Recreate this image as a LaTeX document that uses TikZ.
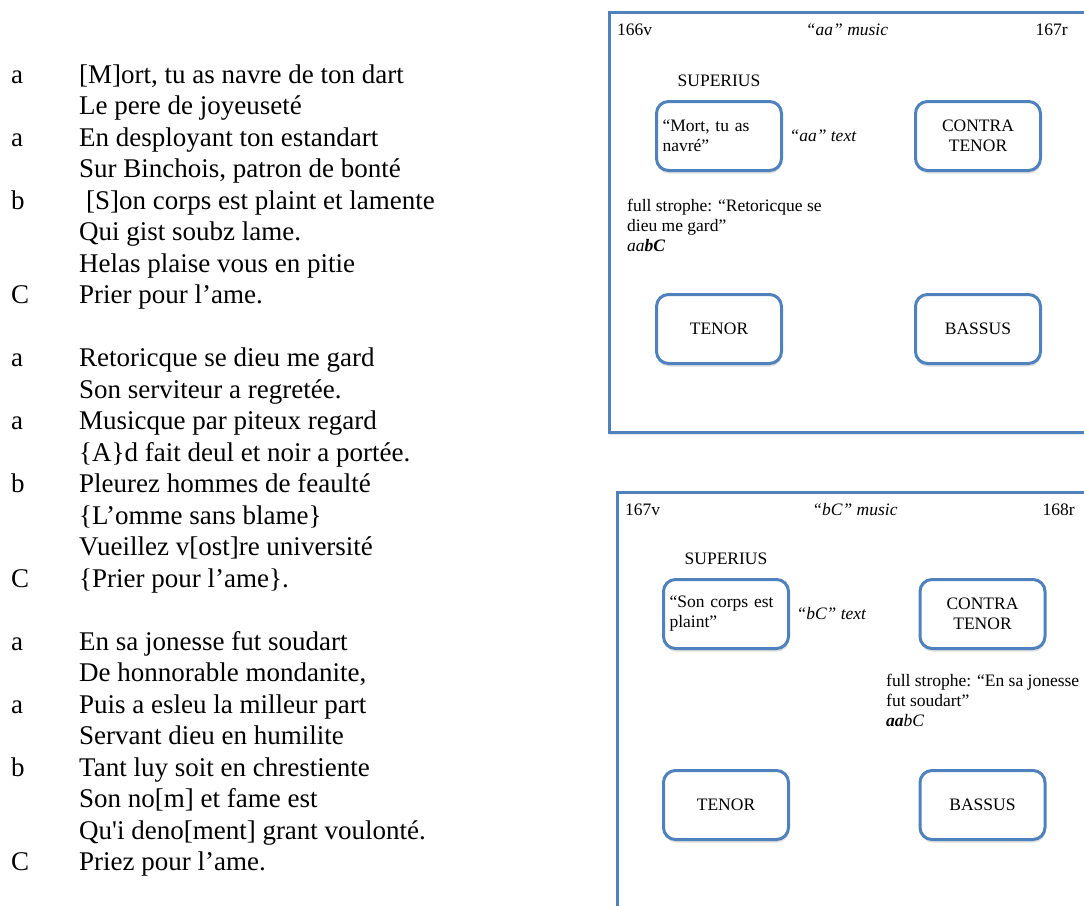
\documentclass[tikz,border=0pt]{standalone}
\usepackage{fontspec}
\setmainfont{Liberation Serif}[Ligatures=TeXOff]
\usetikzlibrary{positioning,shadows}
\definecolor{partblue}{RGB}{79,129,189}
\begin{document}
\begin{tikzpicture}[x=1pt, y={(0pt,-1pt)}, font=\fontsize{17.5}{20}\selectfont]
        \tikzset{frame/.style={draw=partblue, line width=3pt, fill=white, drop shadow={opacity=0.2, shadow xshift=0pt, shadow yshift=-2.5pt}},
                 part/.style={draw=partblue, line width=3pt, rounded corners=12pt, fill=white, minimum width=125pt, minimum height=69pt, inner sep=6pt, align=center, drop shadow={opacity=0.25, shadow xshift=0.5pt, shadow yshift=-3pt}},
                 incipit/.style={part, align=left, text width=113pt},
                 note/.style={anchor=west, align=left, inner sep=0}}
        \useasboundingbox (0,0) rectangle (1084,905);
        \clip (0,0) rectangle (1084,905);

        \node[anchor=base west, inner sep=0, font=\fontsize{27}{31.5}\selectfont] (poem) at (11,83) {%
        \begin{tabular}[t]{@{}p{68pt}@{}l@{}}
        a & [M]ort, tu as navre de ton dart\\
          & Le pere de joyeuseté\\
        a & En desployant ton estandart\\
          & Sur Binchois, patron de bonté\\
        b & \hspace{7pt}[S]on corps est plaint et lamente\\
          & Qui gist soubz lame.\\
          & Helas plaise vous en pitie\\
        C & Prier pour l’ame.\\
          & \\
        a & Retoricque se dieu me gard\\
          & Son serviteur a regretée.\\
        a & Musicque par piteux regard\\
          & \{A\}d fait deul et noir a portée.\\
        b & Pleurez hommes de feaulté\\
          & \{L’omme sans blame\}\\
          & Vueillez v[ost]re université\\
        C & \{Prier pour l’ame\}.\\
          & \\
        a & En sa jonesse fut soudart\\
          & De honnorable mondanite,\\
        a & Puis a esleu la milleur part\\
          & Servant dieu en humilite\\
        b & Tant luy soit en chrestiente\\
          & Son no[m] et fame est\\
          & Qu'i deno[ment] grant voulonté.\\
        C & Priez pour l’ame.
        \end{tabular}};

        \draw[frame] (609,12) rectangle (1120,432);
        \node[note] (leftA) at (617,30) {166v};
        \node (musA) at (847,30) {\itshape “aa” music};
        \node[anchor=east, inner sep=0] (rightA) at (1068,30) {167r};
        \node[incipit] (supA) at (719,136) {“Mort, tu as\\navré”};
        \node[above=10pt of supA] (labA) {SUPERIUS};
        \node[right=3pt of supA] (textA) {\itshape “aa” text};
        \node[part] (conA) at (978,136) {CONTRA\\TENOR};
        \node[part] (tenA) at (719,329) {TENOR};
        \node[part] (basA) at (978,329) {BASSUS};
        \node[note] (stroA) at (627,225) {full strophe: “Retoricque se\\dieu me gard”\\{\itshape aa\bfseries bC}};

        \draw[frame] (617,492) rectangle (1120,940);
        \node[note] (leftB) at (625,510) {167v};
        \node (musB) at (855,510) {\itshape “bC” music};
        \node[anchor=east, inner sep=0] (rightB) at (1075,510) {168r};
        \node[incipit] (supB) at (726,614) {“Son corps est\\plaint”};
        \node[above=10pt of supB] (labB) {SUPERIUS};
        \node[right=3pt of supB] (textB) {\itshape “bC” text};
        \node[part] (conB) at (982.5,614) {CONTRA\\TENOR};
        \node[part] (tenB) at (726,805) {TENOR};
        \node[part] (basB) at (982.5,805) {BASSUS};
        \node[note] (stroB) at (886,700) {full strophe: “En sa jonesse\\fut soudart”\\{\itshape\bfseries aa\mdseries bC}};
\end{tikzpicture}
\end{document}
